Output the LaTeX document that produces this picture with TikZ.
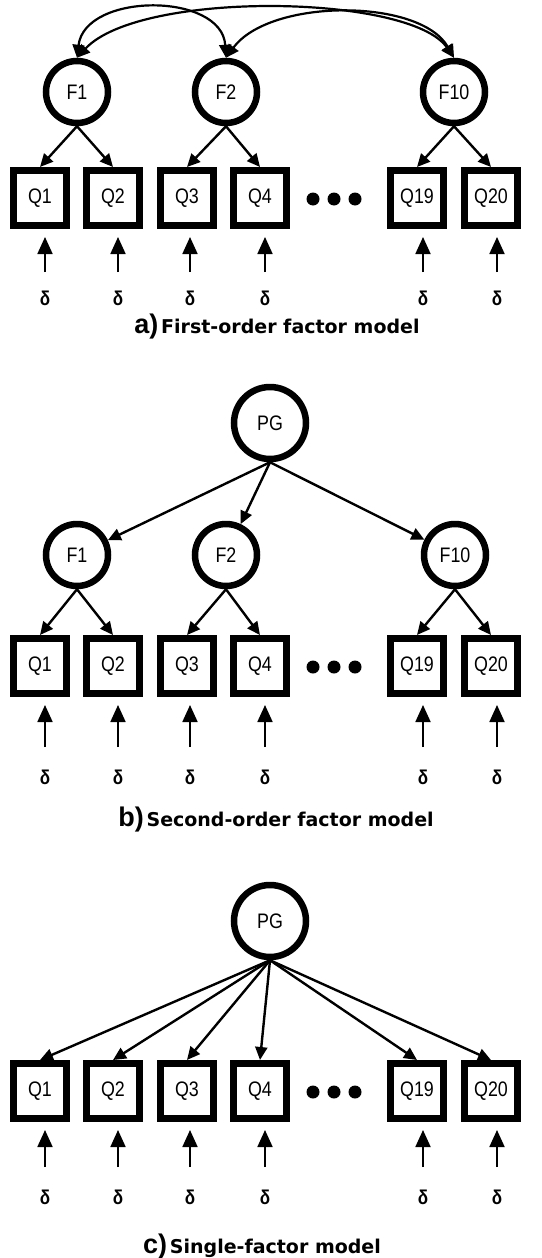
\documentclass[tikz,border=0pt]{standalone}
\usepackage{fontspec}
\setmainfont{Liberation Sans}
\newfontfamily\lab[FakeStretch=0.85]{Liberation Sans}
\newfontfamily\capfont{DejaVu Sans}
\usetikzlibrary{arrows.meta,calc}
\tikzset{
  lat/.style={circle, draw, line width=6.5pt, minimum size=62pt, inner sep=0pt, font=\lab\fontsize{21}{21}\selectfont},
  pgnode/.style={lat, minimum size=72pt},
  obs/.style={draw, line width=7pt, minimum width=53pt, minimum height=55pt, inner sep=0pt, font=\lab\fontsize{21}{21}\selectfont},
  arr/.style={-{Triangle[length=13pt,width=12pt]}, line width=2.4pt},
  dbl/.style={{Triangle[length=13pt,width=12pt]}-{Triangle[length=13pt,width=12pt]}, line width=2.2pt},
  err/.style={-{Triangle[length=17pt,width=15pt]}, line width=1.8pt},
  dl/.style={inner sep=0pt, font=\lab\bfseries\fontsize{20}{20}\selectfont},
  captext/.style={inner sep=0pt}
}
\newcommand{\capA}[1]{{\fontsize{27}{27}\selectfont\bfseries #1}}
\newcommand{\capB}[1]{{\capfont\bfseries\fontsize{19}{19}\selectfont #1}}
\begin{document}
\begin{tikzpicture}[x=1pt,y=-1pt]
\useasboundingbox[fill=white] (0,0) rectangle (541,1258);

% ---------- observed rows, dots, errors ----------
\foreach \p/\qy/\dy/\eb in {a/198/298/272, b/666/777/747, c/1091/1197/1167}{
  \foreach \x/\q/\e in {40/1/5,113/2/5,187/3/3,260/4/5,417/19/6,491/20/6}{
    \node[obs] (\p Q\q) at (\x,\qy) {Q\q};
    \node[dl] (\p d\q) at (\x+\e,\dy) {δ};
    \coordinate (\p e\q) at (\x+\e,\eb);
    \draw[err, shorten >=8pt] (\p e\q) -- (\p e\q |- \p Q\q.south);
  }
  \foreach \dx in {313,334,355}{
    \fill (\dx,\qy+1) circle (6.5pt);
  }
}

% ---------- panel a ----------
\node[lat] (aF1) at (77,92) {F1};
\node[lat] (aF2) at (226,92) {F2};
\node[lat] (aF10) at (454,92) {F10};
\draw[dbl] (aF1.north) .. controls (85,-8) and (222,-8) .. (aF2.north);
\draw[dbl] (aF1.north) .. controls (140,-10) and (410,-6) .. (aF10.north);
\draw[dbl] (aF2.north) .. controls (270,-2) and (420,-2) .. (aF10.north);
\draw[arr] (aF1.south) -- (aQ1.north);
\draw[arr] (aF1.south) -- (aQ2.north);
\draw[arr] (aF2.south) -- (aQ3.north);
\draw[arr] (aF2.south) -- (aQ4.north);
\draw[arr] (aF10.south) -- (aQ19.north);
\draw[arr] (aF10.south) -- (aQ20.north);
\node[captext] (capa) at (277,327) {\capA{a)} \capB{First-order factor model}};

% ---------- panel b ----------
\node[pgnode] (bPG) at (270,423) {PG};
\node[lat] (bF1) at (77,555) {F1};
\node[lat] (bF2) at (226,555) {F2};
\node[lat] (bF10) at (455,555) {F10};
\draw[arr] (bPG.south) -- (bF1);
\draw[arr] (bPG.south) -- (bF2);
\draw[arr] (bPG.south) -- (bF10);
\draw[arr] (bF1.south) -- (bQ1.north);
\draw[arr] (bF1.south) -- (bQ2.north);
\draw[arr] (bF2.south) -- (bQ3.north);
\draw[arr] (bF2.south) -- (bQ4.north);
\draw[arr] (bF10.south) -- (bQ19.north);
\draw[arr] (bF10.south) -- (bQ20.north);
\node[captext] (capb) at (276,820) {\capA{b)} \capB{Second-order factor model}};

% ---------- panel c ----------
\node[pgnode] (cPG) at (270,921) {PG};
\foreach \q in {1,2,3,4,19,20}{
  \draw[arr] (cPG.south) -- (cQ\q.north);
}
\node[captext] (capc) at (262,1247) {\capA{c)} \capB{Single-factor model}};
\end{tikzpicture}
\end{document}
